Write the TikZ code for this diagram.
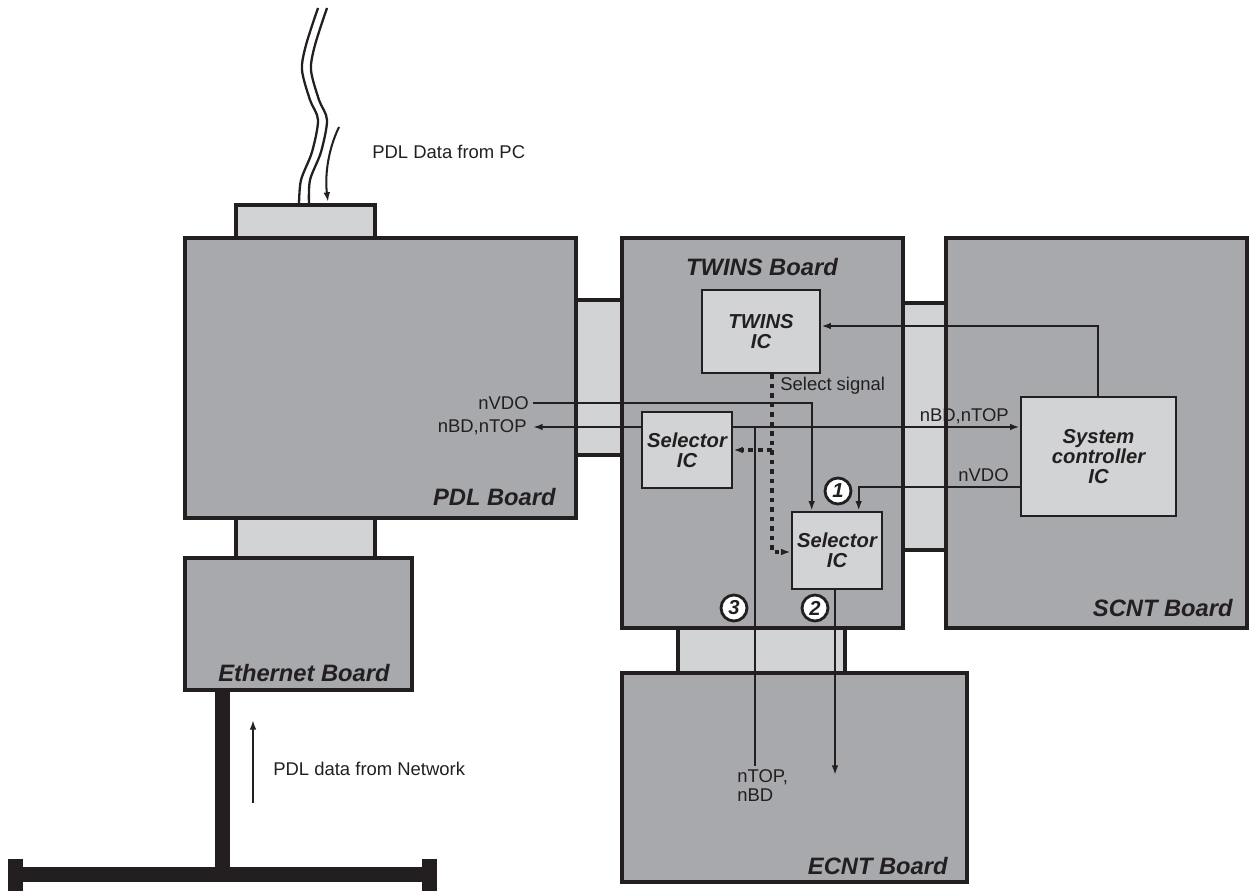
\documentclass[tikz,border=0pt]{standalone}
\usepackage{fontspec}
\setmainfont{Liberation Sans}
\usetikzlibrary{arrows.meta,calc,fit}
\definecolor{board}{HTML}{A7A9AC}
\definecolor{part}{HTML}{D1D3D4}
\definecolor{ink}{HTML}{231F20}
\begin{document}
\begin{tikzpicture}[x=0.02cm,y=-0.02cm,
  boardbox/.style={draw=ink, fill=board, line width=1.8pt, inner sep=0pt},
  partbox/.style={draw=ink, fill=part, line width=1.8pt, inner sep=0pt},
  icbox/.style={draw=ink, fill=part, line width=1.5pt, inner sep=0pt},
  sig/.style={draw=ink, line width=1.15pt},
  arr/.style={sig, -{Latex[length=5.5pt,width=3.8pt]}},
  dots/.style={draw=ink, line width=1.8pt, dash pattern=on 2.6pt off 2.8pt, -{Latex[length=5.5pt,width=3.8pt]}},
  wire/.style={draw=ink, line width=1.3pt},
  blabel/.style={font=\fontsize{13.5}{15}\selectfont\bfseries\itshape, text=ink, inner sep=0pt},
  iclabel/.style={font=\fontsize{11.5}{11.5}\selectfont\bfseries\itshape, align=center, text=ink, inner sep=0pt},
  siglabel/.style={font=\fontsize{10.5}{11}\selectfont, text=ink, inner sep=0pt},
  numc/.style={circle, draw=ink, fill=white, line width=1.6pt, minimum size=0.52cm, inner sep=0pt, font=\fontsize{11.5}{11.5}\selectfont\bfseries\itshape, text=ink}
]
\useasboundingbox (0,0) rectangle (1250,891);

% cable from PC
\draw[wire] plot[smooth] coordinates {(318,8) (306,45) (302,70) (310,100) (318,120) (312,152) (301,180) (299,205)};
\draw[wire] plot[smooth] coordinates {(327,8) (315,45) (311,70) (319,100) (327,120) (321,152) (310,180) (309,205)};
\coordinate (pc0) at (339,127);
\coordinate (pc1) at (328,202);
\draw[arr] (pc0) .. controls (327,152) and (325,178) .. (pc1);
\node[siglabel, anchor=west] (pctxt) at (372,152) {PDL Data from PC};

% connectors (parts between boards)
\node[partbox, fit={(236,205) (375,238)}] (pdltop) {};
\node[partbox, fit={(576,300) (622,455)}] (conpt) {};
\node[partbox, fit={(903,303) (946,550)}] (conts) {};
\node[partbox, fit={(678,628) (845,673)}] (conte) {};
\node[partbox, fit={(236,518) (375,558)}] (conpe) {};

% boards
\node[boardbox, fit={(185,238) (576,518)}] (pdl) {};
\node[boardbox, fit={(622,238) (903,628)}] (twins) {};
\node[boardbox, fit={(946,238) (1247,628)}] (scnt) {};
\node[boardbox, fit={(622,673) (967,882)}] (ecnt) {};
\node[boardbox, fit={(185,558) (412,690)}] (eth) {};

\node[blabel, anchor=east] (pdllab) at (556,497) {PDL Board};
\node[blabel] (twinslab) at (762,267) {TWINS Board};
\node[blabel, anchor=east] (scntlab) at (1233,608) {SCNT Board};
\node[blabel, anchor=east] (ecntlab) at (948,866) {ECNT Board};
\node[blabel] (ethlab) at (304,673) {Ethernet Board};

% ICs
\node[icbox, fit={(702,290) (820,373)}] (twic) {};
\node[iclabel] at (twic.center) {TWINS\\IC};
\node[icbox, fit={(642,412) (732,488)}] (sel1) {};
\node[iclabel] at (sel1.center) {Selector\\IC};
\node[icbox, fit={(792,512) (882,589)}] (sel2) {};
\node[iclabel] at (sel2.center) {Selector\\IC};
\node[icbox, fit={(1021,397) (1176,516)}] (sc) {};
\node[iclabel] at (sc.center) {System\\controller\\IC};

% level coordinates
\coordinate (yvl) at (0,403);
\coordinate (yb) at (0,427);
\coordinate (yvr) at (0,487);
\coordinate (yt) at (0,326);
\coordinate (yd1) at (0,450);
\coordinate (yd2) at (0,552);
\coordinate (xd) at (772,0);

% signals
\node[siglabel, anchor=east] (nvdol) at (529,403) {nVDO};
\draw[arr] ($(nvdol.east)+(4,0)$) -| ($(sel2.north west)+(21,0)$);

\node[siglabel, anchor=east] (nbdl) at (527,427) {nBD,nTOP};
\draw[arr] (sel1.west |- yb) -- ($(nbdl.east)+(6,0)$);

\draw[arr] (sel1.east |- yb) -- (sc.west |- yb);
\node[siglabel, anchor=base east] (nbdr) at (1009,421) {nBD,nTOP};

\node[siglabel, anchor=base east] (nvdor) at (1009,481) {nVDO};
\draw[arr] (sc.west |- yvr) -| ($(sel2.north west)+(68,0)$);

\draw[arr] ($(sc.north west)+(78,0)$) |- (twic.east |- yt);

\coordinate (jn) at (755,427);
\node[siglabel, align=left, anchor=north west] (ntop) at (737,769) {nTOP,\\nBD};
\draw[sig] (jn) -- ($(jn |- ntop.north)+(0,-3)$);

\coordinate (e2) at (835,775);
\draw[arr] (sel2.south -| e2) -- (e2);

% select signal (dotted)
\draw[dots] (twic.south -| xd) -- (xd |- yd2) -- (sel2.west |- yd2);
\draw[dots] (xd |- yd1) -- (sel1.east |- yd1);
\node[siglabel, anchor=west] (seltxt) at (780,386) {Select signal};

% step numbers
\node[numc] (c1) at (838,491) {1};
\node[numc] (c2) at (815,608) {2};
\node[numc] (c3) at (734,608) {3};

% network
\fill[ink] (215,690) rectangle (230,882);
\fill[ink] (8,867) rectangle (437,882);
\fill[ink] (8,859) rectangle (23,891);
\fill[ink] (422,859) rectangle (437,891);
\coordinate (na0) at (253,803);
\coordinate (na1) at (253,720);
\draw[arr] (na0) -- (na1);
\node[siglabel, anchor=west] (nettxt) at (273,769) {PDL data from Network};
\end{tikzpicture}
\end{document}
